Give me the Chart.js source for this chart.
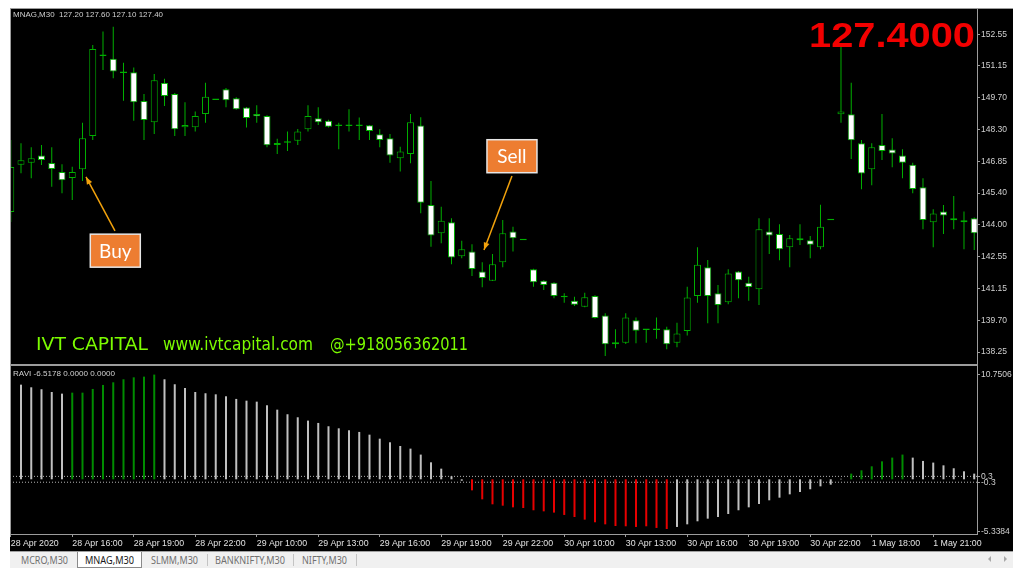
<!DOCTYPE html>
<html>
<head>
<meta charset="utf-8">
<script src="https://cdn.jsdelivr.net/npm/chart.js@4.4.1/dist/chart.umd.min.js"></script>
<style>
html,body{margin:0;padding:0;background:#fff;width:1024px;height:576px;overflow:hidden;font-family:"Liberation Sans",Arial,sans-serif}
.abs{position:absolute;white-space:pre;line-height:1}
#black{position:absolute;left:10px;top:8px;width:1003px;height:543px;background:#000}
#topline{position:absolute;left:10px;top:8px;width:1003px;height:1px;background:#9c9c9c}
canvas{position:absolute;left:10px}
#main{top:8px}
#ravi{top:366px}
.pane{position:absolute;box-sizing:border-box;pointer-events:none}
#pane1{left:10px;top:8px;width:968px;height:356px;border:1px solid #9c9c9c;border-bottom:none}
#sep{position:absolute;left:10px;top:364px;width:968px;height:2px;background:#9c9c9c}
#pane2{left:10px;top:366px;width:968px;height:169px;border:1px solid #9c9c9c;border-top:none}
#tabs{position:absolute;left:10px;top:551px;width:1003px;height:17px;background:#f0f0f0;border-top:1px solid #a0a0a0;box-sizing:border-box}
#active{position:absolute;left:77px;top:552px;width:65px;height:16px;background:#fff;border:1px solid #8a8a8a;border-top:none;box-sizing:border-box}
.vsep{position:absolute;top:554px;width:1px;height:12px;background:#c4c4c4}
.tri{position:absolute;top:556px;width:0;height:0;border-style:solid}
</style>
</head>
<body>
<div id="black"></div>
<div id="topline"></div>
<canvas id="main" width="1003" height="356"></canvas>
<canvas id="ravi" width="1003" height="185"></canvas>
<div class="pane" id="pane1"></div>
<div id="sep"></div>
<div class="pane" id="pane2"></div>
<div id="tabs"></div>
<div id="active"></div>
<div class="vsep" style="left:207px"></div>
<div class="vsep" style="left:293px"></div>
<div class="vsep" style="left:356px"></div>
<div class="tri" style="left:988px;border-width:3px 3px 3px 0;border-color:transparent #a8a8a8 transparent transparent"></div>
<div class="tri" style="left:1004px;border-width:3px 0 3px 3px;border-color:transparent transparent transparent #a8a8a8"></div>
<script>
// MNAG M30 candles, one per bar index
const opens  = [144.55,146.68,146.77,147.09,146.76,146.35,146.08,146.47,147.97,151.57,
                151.45,150.80,150.84,149.55,148.59,150.36,149.86,148.36,148.36,148.96,
                149.59,150.07,149.67,149.25,148.96,148.87,147.66,147.67,147.76,148.27,
                148.77,148.66,148.42,148.42,148.42,148.45,148.05,147.87,146.97,147.16,
                148.44,144.87,143.59,144.09,142.56,142.77,141.87,141.46,142.29,143.67,
                143.28,141.97,141.46,141.37,140.71,140.56,140.29,140.77,139.89,138.69,
                138.67,139.68,139.24,139.24,139.27,138.67,139.20,140.77,142.06,140.89,
                140.49,141.87,141.37,141.07,143.67,143.56,142.96,143.28,143.28,142.96,
                144.18,148.95,148.95,147.64,146.47,147.57,147.36,147.09,146.68,145.66,
                144.09,144.57,144.27,144.18,144.27];
const highs  = [147.79,147.64,147.46,147.57,147.46,146.70,146.59,148.57,152.07,152.67,
                152.89,151.27,151.05,149.86,150.76,150.55,149.90,149.49,149.07,150.37,
                149.59,150.13,149.71,149.27,149.35,148.90,147.85,148.17,148.29,149.35,
                149.26,148.70,148.57,149.17,148.80,148.47,148.27,148.06,147.49,148.96,
                148.81,145.95,144.79,144.27,143.26,143.10,142.29,142.66,144.19,143.89,
                143.28,142.00,141.48,141.39,140.89,140.74,140.92,140.80,139.99,139.27,
                139.99,139.80,139.26,139.80,139.39,139.57,141.19,142.96,142.39,141.27,
                141.97,141.89,141.64,144.27,144.27,144.00,143.52,144.00,143.47,144.88,
                144.18,151.99,150.37,147.79,147.64,148.96,147.87,147.37,146.77,146.07,
                144.67,144.87,145.27,144.57,144.30];
const lows   = [144.10,146.29,146.07,146.67,145.69,145.39,145.09,145.95,147.79,150.94,
                150.57,149.56,148.66,147.79,148.06,149.32,147.97,147.97,148.17,148.57,
                149.59,149.26,149.15,148.35,148.57,147.46,147.16,147.30,147.57,148.17,
                148.47,148.35,147.37,148.17,147.79,147.79,147.46,146.77,146.37,146.74,
                144.49,142.99,143.14,142.20,142.47,141.67,141.16,141.44,142.06,142.77,
                143.28,141.19,141.04,140.67,140.47,140.32,140.26,139.76,138.07,138.42,
                138.61,138.64,138.67,138.85,138.37,138.46,138.99,140.47,139.54,139.54,
                140.40,140.67,140.56,140.37,142.66,142.38,142.06,143.07,142.47,142.87,
                144.18,148.57,146.94,145.57,145.75,146.89,146.56,146.07,145.39,143.77,
                142.96,143.56,143.77,142.87,142.84];
const closes = [146.58,146.88,146.97,146.89,146.49,145.98,146.35,147.87,151.88,151.57,
                150.87,150.80,149.49,148.69,150.48,149.77,148.27,148.47,148.87,149.74,
                149.59,149.58,149.17,148.78,148.86,147.55,147.57,147.67,148.17,148.87,
                148.59,148.39,148.42,148.42,148.42,148.20,147.79,147.09,147.27,148.59,
                144.97,143.49,144.16,142.50,142.87,141.99,141.58,142.20,143.59,143.37,
                143.28,141.39,141.27,140.77,140.71,140.38,140.71,139.78,138.60,138.60,
                139.80,139.21,139.24,139.24,138.60,139.08,140.70,142.18,140.77,140.37,
                141.78,141.48,141.18,143.77,143.49,142.87,143.37,143.37,143.08,143.89,
                144.18,149.07,147.78,146.28,147.46,147.30,147.18,146.77,145.59,144.19,
                144.48,144.39,144.18,144.09,143.59];

// RAVI histogram, same bar index
const raviValues = [null,9.69,9.42,9.22,8.94,8.77,8.87,8.87,9.25,9.66,
                    9.93,10.24,10.44,10.51,10.72,10.24,9.73,9.35,8.94,8.81,
                    8.70,8.50,8.23,8.05,7.95,7.58,7.13,6.66,6.35,6.01,
                    5.77,5.43,5.22,5.02,4.85,4.57,4.16,3.79,3.41,3.14,
                    2.53,1.74,1.09,0.31,-0.15,-1.13,-2.05,-2.56,-2.70,-2.87,
                    -2.94,-3.17,-3.28,-3.41,-3.65,-3.86,-4.13,-4.40,-4.61,-4.78,
                    -4.81,-4.88,-4.81,-4.98,-5.09,-4.88,-4.61,-4.30,-4.03,-3.86,
                    -3.55,-3.17,-2.87,-2.53,-2.15,-1.88,-1.54,-1.30,-1.02,-0.72,
                    -0.55,0.05,0.58,0.92,1.33,1.84,2.22,2.53,2.22,1.88,
                    1.71,1.43,1.13,0.82,0.58];
// s = neutral, g = rising trend, r = falling trend
const raviState = ('ssssss' + 'ggggggggg' + 'ssssssssssssssssssssssssssssss' +
                   'rrrrrrrrrrrrrrrrrrrr' + 'sssssssssssssssss' + 'gggggg' + 'sssssss').split('');
const raviLevels = [0.3, -0.3];

const timeTickIdx = [0,6,12,18,24,30,36,42,48,54,60,66,72,78,84,90];
const timeLabels = ['28 Apr 2020','28 Apr 16:00','28 Apr 19:00','28 Apr 22:00','29 Apr 10:00',
  '29 Apr 13:00','29 Apr 16:00','29 Apr 19:00','29 Apr 22:00','30 Apr 10:00','30 Apr 13:00',
  '30 Apr 16:00','30 Apr 19:00','30 Apr 22:00','1 May 18:00','1 May 21:00'];
const priceTicks = [138.25,139.68,141.11,142.54,143.97,145.40,146.83,148.26,149.69,151.12,152.55];
const priceLabels = ['138.25','139.70','141.15','142.55','144.00','145.40','146.85','148.30','149.70','151.15','152.55'];
const raviTicks = [-5.3384,-0.3,0.3,10.7506];
const raviTickLabels = ['-5.3384','-0.3','0.3','10.7506'];

const callouts = [
  {text:'Buy',  box:[10.20,142.81], from:[10.17,143.70], to:[7.34,146.13]},
  {text:'Sell', box:[48.90,147.06], from:[48.90,146.17], to:[46.17,142.84]}
];

const xMin = -0.073, xMax = 94.27;
const green = '#00b000', axisCol = '#9c9c9c', lblCol = '#d0d0d0';
const stateCol = {s:'#c0c0c0', g:'#008c00', r:'#e60000'};
Chart.defaults.font.family = '"Liberation Sans", Arial, sans-serif';

const idx = opens.map((_, i) => i);
const fitY = s => { s.width = 36; s.paddingTop = 0; s.paddingBottom = 0; };

const calloutPlugin = {
  id: 'callouts',
  afterDatasetsDraw(chart) {
    const {ctx, scales: {x, y}} = chart;
    ctx.save();
    callouts.forEach(c => {
      const x1 = x.getPixelForValue(c.from[0]), y1 = y.getPixelForValue(c.from[1]);
      const x2 = x.getPixelForValue(c.to[0]), y2 = y.getPixelForValue(c.to[1]);
      ctx.strokeStyle = ctx.fillStyle = '#f2a20c';
      ctx.lineWidth = 1.5;
      ctx.beginPath(); ctx.moveTo(x1, y1); ctx.lineTo(x2, y2); ctx.stroke();
      const a = Math.atan2(y2 - y1, x2 - x1), L = 8, w = 0.38;
      ctx.beginPath();
      ctx.moveTo(x2, y2);
      ctx.lineTo(x2 - L * Math.cos(a - w), y2 - L * Math.sin(a - w));
      ctx.lineTo(x2 - L * Math.cos(a + w), y2 - L * Math.sin(a + w));
      ctx.closePath(); ctx.fill();
      const bx = x.getPixelForValue(c.box[0]), by = y.getPixelForValue(c.box[1]);
      ctx.fillStyle = '#ed7d31';
      ctx.fillRect(bx - 25, by - 16.5, 50, 33);
      ctx.strokeStyle = '#e6e6e6'; ctx.lineWidth = 1.5;
      ctx.strokeRect(bx - 25, by - 16.5, 50, 33);
      ctx.fillStyle = '#fff';
      ctx.font = '19px Lato, "Open Sans", sans-serif';
      ctx.textAlign = 'center'; ctx.textBaseline = 'middle';
      ctx.fillText(c.text, bx, by + 1);
    });
    ctx.restore();
  }
};

new Chart(document.getElementById('main'), {
  type: 'bar',
  data: {datasets: [
    {label: 'body', data: idx.map(i => ({x: i, y: [opens[i], closes[i]]})),
     backgroundColor: idx.map(i => closes[i] < opens[i] ? '#ffffff' : '#000000'),
     borderColor: green, borderWidth: 1, borderSkipped: false, minBarLength: 1.5,
     maxBarThickness: 7, grouped: false, categoryPercentage: 1, barPercentage: 1, inflateAmount: 0, order: 1},
    {label: 'wick', data: idx.map(i => ({x: i, y: [lows[i], highs[i]]})),
     backgroundColor: green, borderWidth: 0,
     maxBarThickness: 1, grouped: false, categoryPercentage: 1, barPercentage: 1, inflateAmount: 0, order: 2}
  ]},
  options: {
    responsive: false, animation: false, events: [], layout: {padding: 0},
    plugins: {legend: {display: false}, tooltip: {enabled: false}},
    scales: {
      x: {type: 'linear', min: xMin, max: xMax, display: false, offset: false, grid: {offset: false}},
      y: {position: 'right', min: 137.71, max: 153.73,
          afterBuildTicks: s => { s.ticks = priceTicks.map(v => ({value: v})); },
          afterFit: fitY,
          ticks: {callback: (v, i) => priceLabels[i], color: lblCol, font: {size: 8.5}, padding: 1, autoSkip: false},
          grid: {drawOnChartArea: false, drawTicks: true, tickLength: 3, color: axisCol},
          border: {display: false}}
    }
  },
  plugins: [calloutPlugin]
});

new Chart(document.getElementById('ravi'), {
  type: 'bar',
  data: {datasets: [
    {type: 'bar', data: idx.map(i => ({x: i, y: raviValues[i]})),
     backgroundColor: raviState.map(s => stateCol[s]), borderWidth: 0,
     maxBarThickness: 2, grouped: false, categoryPercentage: 1, barPercentage: 1, inflateAmount: 0, order: 1},
    ...raviLevels.map(l => ({type: 'line', data: [{x: xMin, y: l}, {x: xMax, y: l}],
      borderColor: '#b4b4b4', borderWidth: 1, borderDash: [1, 2], pointRadius: 0, order: 2}))
  ]},
  options: {
    responsive: false, animation: false, events: [], layout: {padding: 0},
    plugins: {legend: {display: false}, tooltip: {enabled: false}},
    scales: {
      x: {type: 'linear', min: xMin, max: xMax, offset: false,
          afterBuildTicks: s => { s.ticks = timeTickIdx.map(v => ({value: v})); },
          afterFit: s => { s.height = 17; s.paddingLeft = 0; s.paddingRight = 0; },
          ticks: {callback: (v, i) => timeLabels[i], align: 'start', maxRotation: 0, minRotation: 0,
                  autoSkip: false, color: '#e2e2e2', font: {size: 8.8}, padding: 1},
          grid: {drawOnChartArea: false, drawTicks: true, tickLength: 3, color: axisCol, offset: false},
          border: {display: false}},
      y: {position: 'right', min: -5.6, max: 11.6,
          afterBuildTicks: s => { s.ticks = raviTicks.map(v => ({value: v})); },
          afterFit: fitY,
          ticks: {callback: (v, i) => raviTickLabels[i], color: lblCol, font: {size: 8.5}, padding: 1, autoSkip: false},
          grid: {drawOnChartArea: false, drawTicks: true, tickLength: 3, color: axisCol},
          border: {display: false}}
    }
  }
});

// text overlays: left, baseline, size, target width
function label(txt, left, base, size, o) {
  const d = document.createElement('div');
  d.className = 'abs';
  d.textContent = txt;
  d.style.left = left + 'px';
  d.style.top = (base - 0.85 * size) + 'px';
  d.style.fontSize = size + 'px';
  d.style.color = o.color;
  if (o.font) d.style.fontFamily = o.font;
  if (o.bold) d.style.fontWeight = 'bold';
  document.body.appendChild(d);
  if (o.w) {
    const w = d.getBoundingClientRect().width;
    d.style.transformOrigin = '0 0';
    d.style.transform = 'scaleX(' + (o.w / w) + ')';
  }
}
label('MNAG,M30  127.20 127.60 127.10 127.40', 13, 17.7, 8, {color: lblCol, w: 150});
label('RAVI -6.5178 0.0000 0.0000', 13, 376.7, 8, {color: lblCol, w: 102});
label('127.4000', 809, 46.7, 35, {color: '#f20000', bold: true, w: 166});
const wm = {color: '#7cfc00', font: '"DejaVu Sans", sans-serif'};
label('IVT CAPITAL', 36, 350.8, 17, {...wm, w: 112});
label('www.ivtcapital.com', 163, 350.8, 17, {...wm, w: 150});
label('@+918056362011', 330, 350.8, 17, {...wm, w: 138});
const tab = {color: '#707070', font: '"Noto Sans", sans-serif'};
label('MCRO,M30', 21, 564.3, 10.5, {...tab, w: 47});
label('MNAG,M30', 85, 564.3, 10.5, {...tab, color: '#1a1a1a', w: 49});
label('SLMM,M30', 151, 564.3, 10.5, {...tab, w: 47});
label('BANKNIFTY,M30', 215, 564.3, 10.5, {...tab, w: 70});
label('NIFTY,M30', 302, 564.3, 10.5, {...tab, w: 45});
</script>
</body>
</html>
